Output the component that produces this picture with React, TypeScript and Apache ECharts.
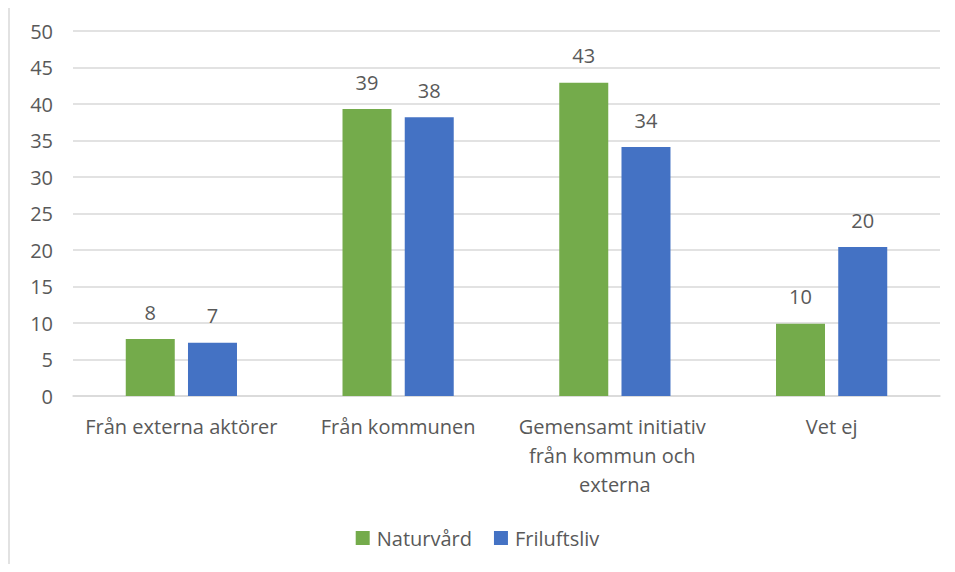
import React, { useEffect, useRef } from "react";
import * as echarts from "echarts";

const categories = [
  "Från externa aktörer",
  "Från kommunen",
  "Gemensamt initiativ från kommun och externa",
  "Vet ej",
];
const naturvard = [7.8, 39.3, 42.9, 9.9];
const friluftsliv = [7.3, 38.2, 34.1, 20.4];
const seriesNames = ["Naturvård", "Friluftsliv"];

const FONT = "'Open Sans', 'Noto Sans', sans-serif";
const TEXT = "#595959";
const FS = 20;

export default function App() {
  const ref = useRef<HTMLDivElement>(null);
  useEffect(() => {
    const chart = echarts.init(ref.current!, undefined, { renderer: "svg" });
    const label = {
      show: true,
      position: "top",
      distance: 17,
      color: TEXT,
      fontSize: FS,
      fontFamily: FONT,
      formatter: (p: any) => String(Math.round(p.value)),
    };
    chart.setOption({
      animation: false,
      backgroundColor: "#ffffff",
      textStyle: { fontFamily: FONT },
      graphic: [
        {
          type: "rect",
          shape: { x: 9, y: 1, width: 980, height: 620 },
          style: { fill: "none", stroke: "#d9d9d9", lineWidth: 1.5 },
          silent: true,
        },
      ],
      grid: { left: 73, right: 15, top: 31, bottom: 176, containLabel: false },
      legend: {
        bottom: 19,
        left: "center",
        itemWidth: 14,
        itemHeight: 14,
        itemGap: 22,
        icon: "rect",
        textStyle: { color: TEXT, fontSize: FS, fontFamily: FONT, padding: [0, 0, 0, 2] },
        data: seriesNames,
      },
      xAxis: {
        type: "category",
        data: categories,
        axisLine: { show: true, lineStyle: { color: "#d9d9d9", width: 1.5 } },
        axisTick: { show: false },
        axisLabel: {
          color: TEXT,
          fontSize: FS,
          fontFamily: FONT,
          margin: 16,
          lineHeight: 29,
          width: 210,
          overflow: "break",
          interval: 0,
        },
      },
      yAxis: {
        type: "value",
        min: 0,
        max: 50,
        interval: 5,
        axisLine: { show: false },
        axisTick: { show: false },
        axisLabel: { color: TEXT, fontSize: FS, fontFamily: FONT, margin: 20 },
        splitLine: { lineStyle: { color: "#d9d9d9", width: 1.5 } },
      },
      series: [
        {
          name: seriesNames[0],
          type: "bar",
          data: naturvard,
          itemStyle: { color: "#74AB4B" },
          barWidth: 49,
          barGap: "27%",
          label,
        },
        {
          name: seriesNames[1],
          type: "bar",
          data: friluftsliv,
          itemStyle: { color: "#4472C4" },
          barWidth: 49,
          label,
        },
      ],
    });
    return () => chart.dispose();
  }, []);
  return <div ref={ref} style={{ width: 955, height: 572, margin: -8 }} />;
}
